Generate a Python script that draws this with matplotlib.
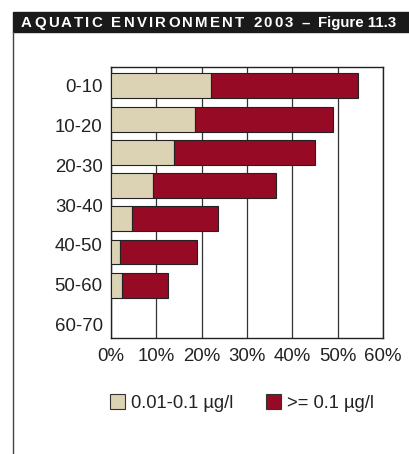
import numpy as np
import matplotlib.pyplot as plt
from matplotlib.patches import Rectangle, Patch
from matplotlib.lines import Line2D

plt.rcParams['font.family'] = ['Liberation Sans', 'DejaVu Sans']

# depth classes and share of samples (%) per concentration class
depth_labels = ['0-10', '10-20', '20-30', '30-40', '40-50', '50-60', '60-70']
low_share = [22.0, 18.6, 14.0, 9.3, 4.6, 1.9, 2.5]        # 0.01-0.1 ug/l
high_share = [32.5, 30.3, 31.1, 27.0, 18.9, 17.1, 10.1]   # >= 0.1 ug/l
legend_labels = ['0.01-0.1 µg/l', '>= 0.1 µg/l']
x_ticks = [0, 10, 20, 30, 40, 50, 60]

beige = '#DCD3B4'
red = '#960A25'
dark = '#222222'

W, H = 409, 454
fig = plt.figure(figsize=(W / 100, H / 100), dpi=100)

# header band + left rule
fig.patches.append(Rectangle((13 / W, 1 - 32 / H), 1 - 13 / W, 20 / H,
                             transform=fig.transFigure, color='#1a1a1a', zorder=0))
fig.lines.append(Line2D([13 / W, 13 / W], [0, 1 - 32 / H], transform=fig.transFigure,
                        color='#444444', lw=1.0))

renderer = fig.canvas.get_renderer()


def spaced_text(x_px, y, s, spacing, **kw):
    # draw text one char at a time so the letter spacing can be widened
    probe = fig.text(0, 0, 'x x', **kw)
    w_sp = probe.get_window_extent(renderer).width
    probe.set_text('xx')
    w_sp -= probe.get_window_extent(renderer).width
    probe.remove()
    for ch in s:
        if ch == ' ':
            x_px += w_sp + spacing
            continue
        t = fig.text(x_px / W, y, ch, **kw)
        x_px += t.get_window_extent(renderer).width + spacing
    return x_px - spacing


hkw = dict(color='white', fontsize=10.8, fontweight='bold', va='baseline', ha='left')
x_end = spaced_text(21, 1 - 27.3 / H, 'AQUATIC ENVIRONMENT 2003 –', 2.25, **hkw)
fig.text((x_end + 8) / W, 1 - 27.3 / H, 'Figure 11.3', **hkw)

# chart
ax = fig.add_axes([111 / W, 116 / H, 272 / W, 271 / H])
pos = np.arange(len(depth_labels))
ax.barh(pos, low_share, height=0.75, color=beige, edgecolor=dark, linewidth=0.8,
        zorder=3, label=legend_labels[0])
ax.barh(pos, high_share, left=low_share, height=0.75, color=red, edgecolor=dark,
        linewidth=0.8, zorder=3, label=legend_labels[1])

ax.set_xlim(0, 60)
ax.set_ylim(7.59, -0.57)
ax.set_xticks(x_ticks)
ax.set_xticklabels([f'{v}%' for v in x_ticks])
ax.set_yticks(pos * 1.196)
ax.set_yticklabels(depth_labels)
ax.tick_params(length=0, labelsize=13.4, colors=dark)
ax.tick_params(axis='x', pad=7)
ax.tick_params(axis='y', pad=6)
ax.grid(axis='x', color='#333333', linewidth=0.9, zorder=0)
ax.set_axisbelow(True)
for s in ax.spines.values():
    s.set_color(dark)
    s.set_linewidth(1.0)

handles = [Patch(facecolor=beige, edgecolor='#333333', linewidth=0.8),
           Patch(facecolor=red, edgecolor='#333333', linewidth=0.8)]
fig.legend(handles, legend_labels, loc='center left', bbox_to_anchor=(110 / W, 1 - 403 / H),
           ncol=2, frameon=False, fontsize=13.2, handlelength=0.83, handleheight=0.83,
           handletextpad=0.33, columnspacing=1.75, borderpad=0, borderaxespad=0,
           labelcolor=dark)

fig.savefig('out.png', dpi=100)
